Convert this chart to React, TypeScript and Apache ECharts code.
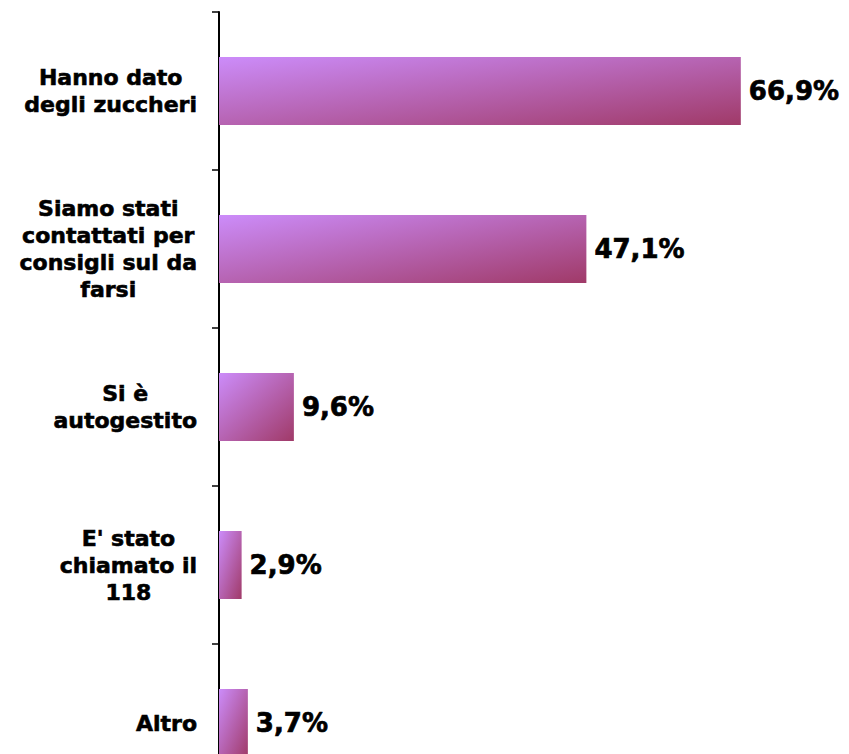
import React, { useEffect, useRef } from "react";
import * as echarts from "echarts";

const categories: string[] = [
  "Hanno dato\ndegli zuccheri",
  "Siamo stati\ncontattati per\nconsigli sul da\nfarsi",
  "Si è\nautogestito",
  "E' stato\nchiamato il\n118",
  "Altro",
];
const values: number[] = [66.9, 47.1, 9.6, 2.9, 3.7];
const valueLabels: string[] = ["66,9%", "47,1%", "9,6%", "2,9%", "3,7%"];

export default function App() {
  const ref = useRef<HTMLDivElement>(null);
  useEffect(() => {
    if (!ref.current) return;
    const chart = echarts.init(ref.current, undefined, { renderer: "svg" });
    const font = "'DejaVu Sans', Verdana, sans-serif";
    chart.setOption({
      animation: false,
      grid: {
        left: 219,
        top: 12,
        width: 624,
        height: 790,
        containLabel: false,
        outerBoundsMode: "none",
      },
      xAxis: {
        type: "value",
        min: 0,
        max: 80,
        show: false,
      },
      yAxis: {
        type: "category",
        inverse: true,
        data: categories,
        axisLine: { show: true, lineStyle: { color: "#000", width: 2 } },
        axisTick: { show: true, length: 7, lineStyle: { color: "#000", width: 1.5 } },
        axisLabel: {
          margin: 22,
          align: "right",
          formatter: (v: string) =>
            v
              .split("\n")
              .map((l) => `{c|${l}}`)
              .join("\n"),
          rich: {
            c: {
              align: "center",
              fontFamily: font,
              fontWeight: "bold",
              fontSize: 22,
              lineHeight: 27,
              color: "#000",
              textBorderColor: "#000",
              textBorderWidth: 0.6,
            },
          },
        },
        splitLine: { show: false },
      },
      series: [
        {
          type: "bar",
          data: values,
          barWidth: 68,
          itemStyle: {
            color: new echarts.graphic.LinearGradient(0, 0, 1, 1, [
              { offset: 0, color: "#cc8cfa" },
              { offset: 1, color: "#a03a68" },
            ]),
          },
          label: {
            show: true,
            position: "right",
            distance: 8,
            formatter: (p: any) => valueLabels[p.dataIndex],
            fontFamily: font,
            fontWeight: "bold",
            fontSize: 26,
            color: "#000",
            textBorderColor: "#000",
            textBorderWidth: 0.7,
          },
        },
      ],
    });
    return () => chart.dispose();
  }, []);
  return (
    <div
      ref={ref}
      style={{ position: "fixed", left: 0, top: 0, width: 849, height: 754, background: "#fff" }}
    />
  );
}
